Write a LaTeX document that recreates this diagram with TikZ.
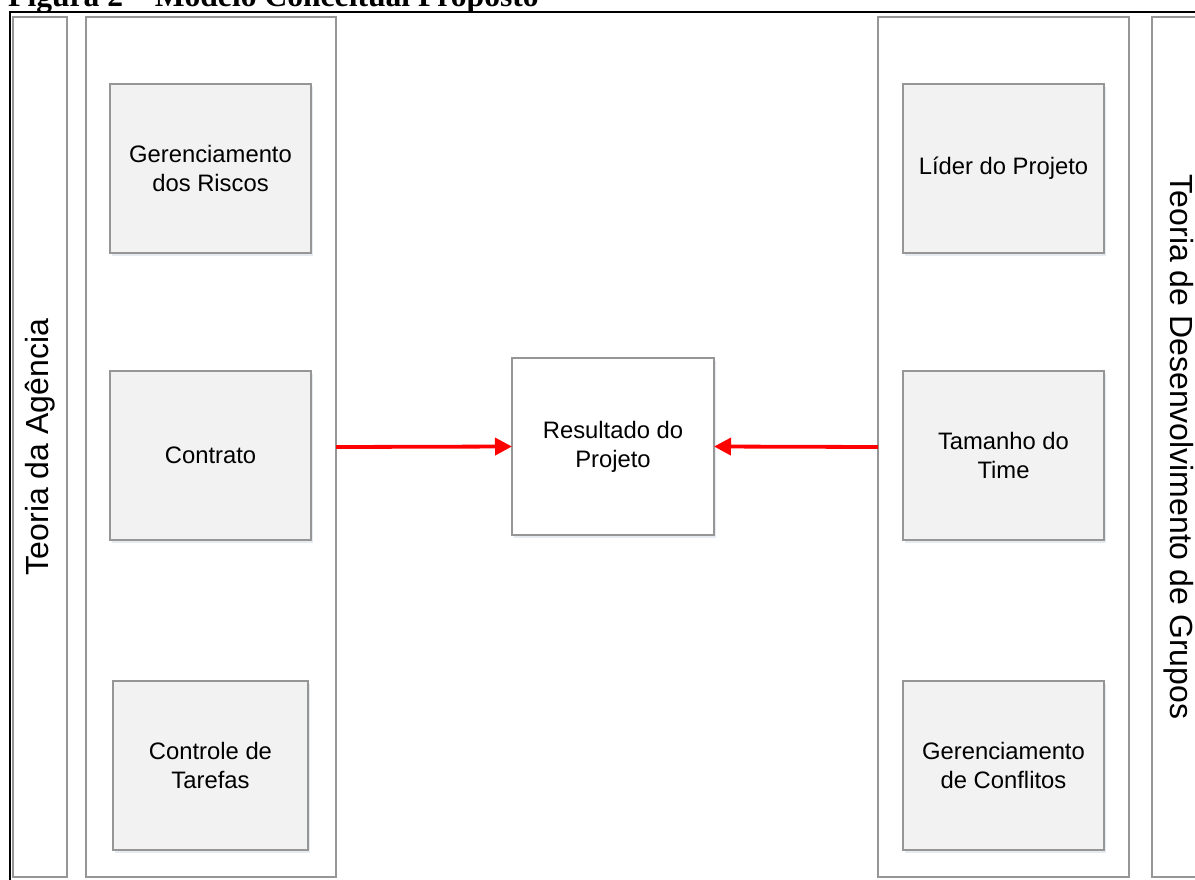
\documentclass[tikz,border=0pt]{standalone}
\usepackage{fontspec}
\setmainfont{Liberation Sans}
\newfontfamily\titlefont{Liberation Serif}
\usetikzlibrary{arrows.meta,shadows}
\definecolor{boxgray}{HTML}{969696}
\definecolor{fillgray}{HTML}{F2F2F2}
\definecolor{arrred}{HTML}{FF0000}
\definecolor{shadowc}{HTML}{B8C4D8}
\begin{document}
\begin{tikzpicture}[x=1pt,y=-1pt,
  panel/.style={draw=boxgray, line width=1.5pt, fill=white, inner sep=0pt, outer sep=0pt},
  item/.style={draw=boxgray, line width=1.5pt, fill=fillgray, inner sep=0pt, outer sep=0pt,
    minimum width=201pt, minimum height=169pt, align=center,
    font=\fontsize{23.8}{29}\selectfont,
    drop shadow={shadow xshift=1.5pt, shadow yshift=-2.5pt, opacity=0.35, fill=shadowc}},
  sidelabel/.style={font=\fontsize{32}{38}\selectfont, inner sep=0pt},
  link/.style={draw=arrred, line width=3.8pt, -{Triangle[length=17pt,width=17pt]}}
]
\useasboundingbox (0,0) rectangle (1195,879);
\clip (0,0) rectangle (1195,879);
% title
\node[anchor=base west, inner sep=0pt, font=\titlefont\bfseries\fontsize{31.6}{38}\selectfont] (title) at (8,6) {Figura 2 – Modelo Conceitual Proposto};
% frame
\draw[line width=2.5pt] (10,885) -- (10,12) -- (1205,12);
% side panels
\node[panel, minimum width=54pt, minimum height=860pt] (lside) at (40,447) {};
\node[sidelabel, rotate=90] (llabel) at (lside.center) {Teoria da Agência};
\node[panel, minimum width=54pt, minimum height=860pt] (rside) at (1179,447) {};
\node[sidelabel, rotate=-90] (rlabel) at (rside.center) {Teoria de Desenvolvimento de Grupos};
% big panels
\node[panel, minimum width=250pt, minimum height=860pt] (lbig) at (211,447) {};
\node[panel, minimum width=251pt, minimum height=860pt] (rbig) at (1003.5,447) {};
% left items
\node[item] (riscos) at (210.5,168.5) {Gerenciamento\\dos Riscos};
\node[item] (contrato) at (210.5,455.5) {Contrato};
\node[item, minimum width=195pt] (tarefas) at (210.5,765.5) {Controle de\\Tarefas};
% right items
\node[item] (lider) at (1003.5,168.5) {Líder do Projeto};
\node[item] (time) at (1003.5,455.5) {Tamanho do\\Time};
\node[item] (conflitos) at (1003.5,765.5) {Gerenciamento\\de Conflitos};
% centre
\node[panel, minimum width=202pt, minimum height=177pt, align=center,
  font=\fontsize{23.8}{29}\selectfont,
  drop shadow={shadow xshift=1.5pt, shadow yshift=-2.5pt, opacity=0.35, fill=shadowc}] (res) at (613,446.5) {Resultado do\\Projeto};
% arrows
\draw[link] (lbig.east) -- (res.west);
\draw[link] (rbig.west) -- (res.east);
\end{tikzpicture}
\end{document}
